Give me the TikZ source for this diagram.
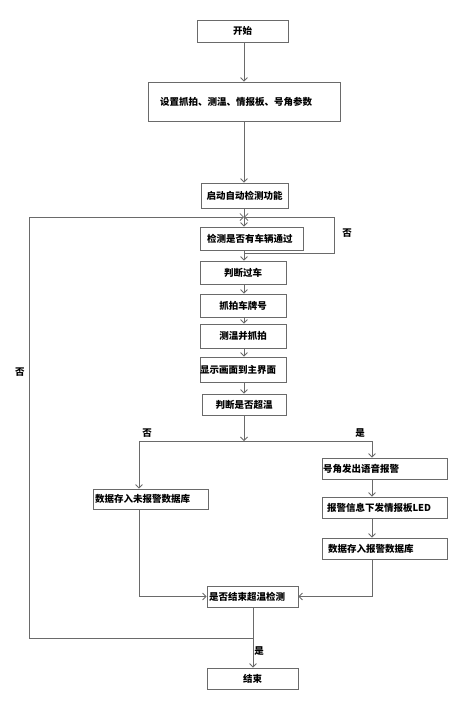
\documentclass[tikz,border=0pt]{standalone}
\usepackage{fontspec}
\setmainfont{Noto Sans CJK SC}
\usetikzlibrary{arrows.meta}
\definecolor{ln}{HTML}{6A6A6A}
\begin{document}
\begin{tikzpicture}[x=1pt,y=-1pt,
  box/.style={draw=ln,line width=0.8pt,inner sep=0pt,font=\fontsize{9.5}{11}\selectfont\bfseries},
  arr/.style={draw=ln,line width=0.8pt,-{Straight Barb[length=3.5pt,width=7pt]}},
  ln/.style={draw=ln,line width=0.8pt},
  lbl/.style={font=\fontsize{9.5}{11}\selectfont\bfseries,inner sep=0pt}]
\useasboundingbox (0,0) rectangle (470,710);
% boxes
\node[box,minimum width=91pt,minimum height=22pt] (start) at (242.5,31) {开始};
\node[box,minimum width=192pt,minimum height=39pt,text width=168pt,align=left] (set) at (244,101.5) {设置抓拍、测温、情报板、号角参数};
\node[box,minimum width=87pt,minimum height=25pt] (auto) at (244.5,195.5) {启动自动检测功能};
\node[box,minimum width=103pt,minimum height=23pt,text width=89pt,align=left] (detect) at (251.5,238.5) {检测是否有车辆通过};
\node[box,minimum width=86pt,minimum height=23pt] (judge) at (243,272.5) {判断过车};
\node[box,minimum width=86pt,minimum height=23pt] (snap) at (243,305.5) {抓拍车牌号};
\node[box,minimum width=86pt,minimum height=24pt] (temp) at (243,336) {测温并抓拍};
\node[box,minimum width=86pt,minimum height=25pt,text width=86pt,align=left] (disp) at (243,369.5) {显示画面到主界面};
\node[box,minimum width=84pt,minimum height=21pt] (over) at (244,404.5) {判断是否超温};
\node[box,minimum width=125pt,minimum height=21pt,text width=123pt,align=left] (horn) at (384.5,468.5) {号角发出语音报警};
\node[box,minimum width=125pt,minimum height=21pt,text width=115pt,align=left] (led) at (384.5,507.5) {报警信息下发情报板LED};
\node[box,minimum width=125pt,minimum height=21pt,text width=113pt,align=left] (db) at (384.5,548.5) {数据存入报警数据库};
\node[box,minimum width=115pt,minimum height=20pt,text width=111pt,align=left] (nodb) at (150.5,499) {数据存入未报警数据库};
\node[box,minimum width=91pt,minimum height=21pt,text width=87pt,align=left] (endq) at (252.5,596.5) {是否结束超温检测};
\node[box,minimum width=91pt,minimum height=21pt] (end) at (252.5,678.5) {结束};
% coordinates
\coordinate (J) at (244,217);
\coordinate (R1) at (244,253);
\coordinate (R2) at (334,253);
\coordinate (R3) at (334,217);
\coordinate (S) at (244,441);
\coordinate (SL) at (139,441);
\coordinate (SR) at (372,441);
\coordinate (L1) at (253,638);
\coordinate (L2) at (29,638);
\coordinate (L3) at (29,217);
% connectors
\draw[arr] (start.south -| J) -- (set.north -| J);
\draw[arr] (set.south -| J) -- (auto.north -| J);
\draw[arr] (auto.south -| J) -- (detect.north -| J);
\draw[ln] (detect.south -| J) -- (R1) -- (R2) -- (R3);
\draw[arr] (R3) -- (J);
\draw[arr] (detect.south -| J) -- (judge.north -| J);
\draw[arr] (judge.south -| J) -- (snap.north -| J);
\draw[arr] (snap.south -| J) -- (temp.north -| J);
\draw[arr] (temp.south -| J) -- (disp.north -| J);
\draw[arr] (disp.south -| J) -- (over.north -| J);
\draw[arr] (over.south -| S) -- (S);
\draw[ln] (SL) -- (SR);
\draw[arr] (SL) -- (SL |- nodb.north);
\draw[arr] (SR) -- (SR |- horn.north);
\draw[arr] (horn.south -| SR) -- (led.north -| SR);
\draw[arr] (led.south -| SR) -- (db.north -| SR);
\draw[arr] (nodb.south -| SL) -- (SL |- endq.west) -- (endq.west);
\draw[arr] (db.south -| SR) -- (SR |- endq.east) -- (endq.east);
\draw[arr] (endq.south -| L1) -- (L1 |- end.north);
\draw[arr] (L1) -- (L2) -- (L3) -- (J);
% labels
\node[lbl] (n1) at (347,233) {否};
\node[lbl] (n2) at (20,372) {否};
\node[lbl] (n3) at (147,433) {否};
\node[lbl] (y1) at (360,433) {是};
\node[lbl] (y2) at (259,651) {是};
\end{tikzpicture}
\end{document}
